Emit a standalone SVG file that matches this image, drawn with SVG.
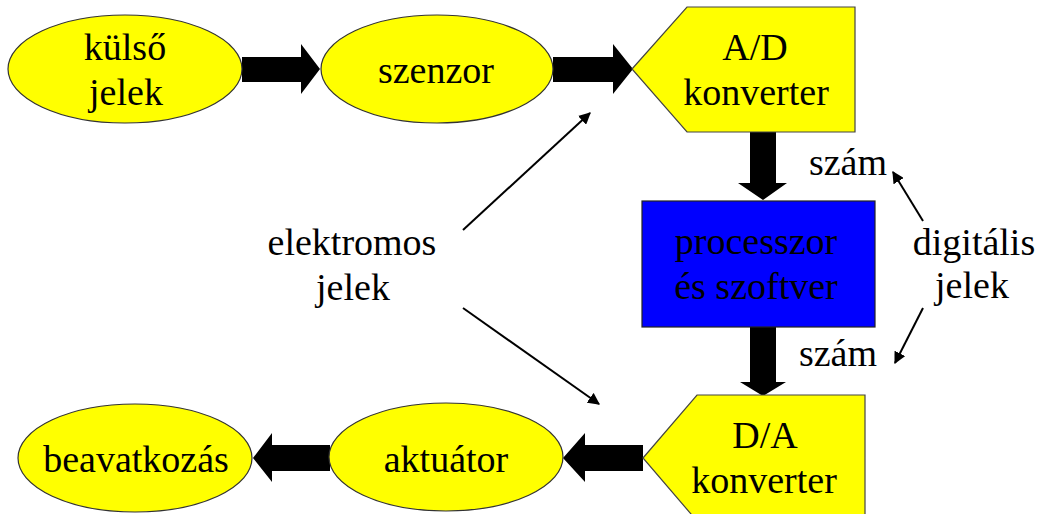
<svg xmlns="http://www.w3.org/2000/svg" width="1039" height="514" viewBox="0 0 1039 514">
  <defs>
    <marker id="tip" viewBox="0 0 10 10" refX="9" refY="5" markerWidth="6" markerHeight="6" markerUnits="strokeWidth" orient="auto">
      <path d="M0,0 L10,5 L0,10 Z" fill="#000"/>
    </marker>
  </defs>
  <rect width="1039" height="514" fill="#fff"/>

  <!-- signal flow connectors -->
  <g id="connectors" fill="#000">
    <polygon points="242,57 301,57 301,44 320,69 301,94 301,82 242,82"/>
    <polygon points="553,57 613,57 613,44 633,69 613,94 613,82 553,82"/>
    <polygon points="750,132 776,132 776,183 787,183 763,200 738,183 750,183"/>
    <polygon points="750,327 776,327 776,382 786,382 763,396 740,382 750,382"/>
    <polygon points="643,445 585,445 585,433 563,458 585,482 585,471 643,471"/>
    <polygon points="330,445 272,445 272,433 253,458 272,482 272,471 330,471"/>
    <g stroke="#000" stroke-width="2" fill="none" marker-end="url(#tip)">
      <line x1="463" y1="230" x2="590" y2="113"/>
      <line x1="463" y1="308" x2="599" y2="404"/>
      <line x1="923" y1="221" x2="893" y2="172"/>
      <line x1="923" y1="308" x2="895" y2="363"/>
    </g>
  </g>

  <g font-size="38" text-anchor="middle" fill="#000">
  <g id="kulso-jelek">
    <ellipse cx="125" cy="69" rx="117" ry="54" fill="#ffff00" stroke="#333" stroke-width="1.2"/>
    <text x="125" y="60" font-family="'Liberation Serif'">külső</text>
    <text x="126" y="105" font-family="'Liberation Serif'">jelek</text>
  </g>

  <g id="szenzor">
    <ellipse cx="437" cy="69" rx="116" ry="54" fill="#ffff00" stroke="#333" stroke-width="1.2"/>
    <text x="436" y="83" font-family="'Liberation Serif'">szenzor</text>
  </g>

  <g id="ad-konverter">
    <polygon points="632,69 687,7 855,7 855,132 687,132" fill="#ffff00" stroke="#444" stroke-width="1.2"/>
    <text x="755" y="60" font-family="'Liberation Serif'">A/D</text>
    <text x="756" y="105" font-family="'Liberation Serif'">konverter</text>
  </g>

  <g id="processzor">
    <rect x="642" y="201" width="233" height="126" fill="#0000ff" stroke="#222" stroke-width="1.2"/>
    <text x="756" y="254" font-family="'Liberation Serif'" fill="#000">processzor</text>
    <text x="756" y="299" font-family="'Liberation Serif'" fill="#000">és szoftver</text>
  </g>

  <g id="da-konverter">
    <polygon points="643,458 697,395 865,395 865,521 697,521" fill="#ffff00" stroke="#444" stroke-width="1.2"/>
    <text x="765" y="448" font-family="'Liberation Serif'">D/A</text>
    <text x="764" y="493" font-family="'Liberation Serif'">konverter</text>
  </g>

  <g id="aktuator">
    <ellipse cx="446" cy="457" rx="117" ry="54" fill="#ffff00" stroke="#333" stroke-width="1.2"/>
    <text x="446" y="472" font-family="'Liberation Serif'">aktuátor</text>
  </g>

  <g id="beavatkozas">
    <ellipse cx="135" cy="458" rx="117" ry="54" fill="#ffff00" stroke="#333" stroke-width="1.2"/>
    <text x="136" y="472" font-family="'Liberation Serif'">beavatkozás</text>
  </g>

  <g id="elektromos-jelek">
    <text x="352" y="255" font-family="'Liberation Serif'">elektromos</text>
    <text x="353" y="300" font-family="'Liberation Serif'">jelek</text>
  </g>

  <g id="digitalis-jelek">
    <text x="974" y="255" font-family="'Liberation Serif'">digitális</text>
    <text x="972" y="298" font-family="'Liberation Serif'">jelek</text>
    <text x="848" y="175" font-family="'Liberation Serif'">szám</text>
    <text x="838" y="366" font-family="'Liberation Serif'">szám</text>
  </g>
  </g>
</svg>
